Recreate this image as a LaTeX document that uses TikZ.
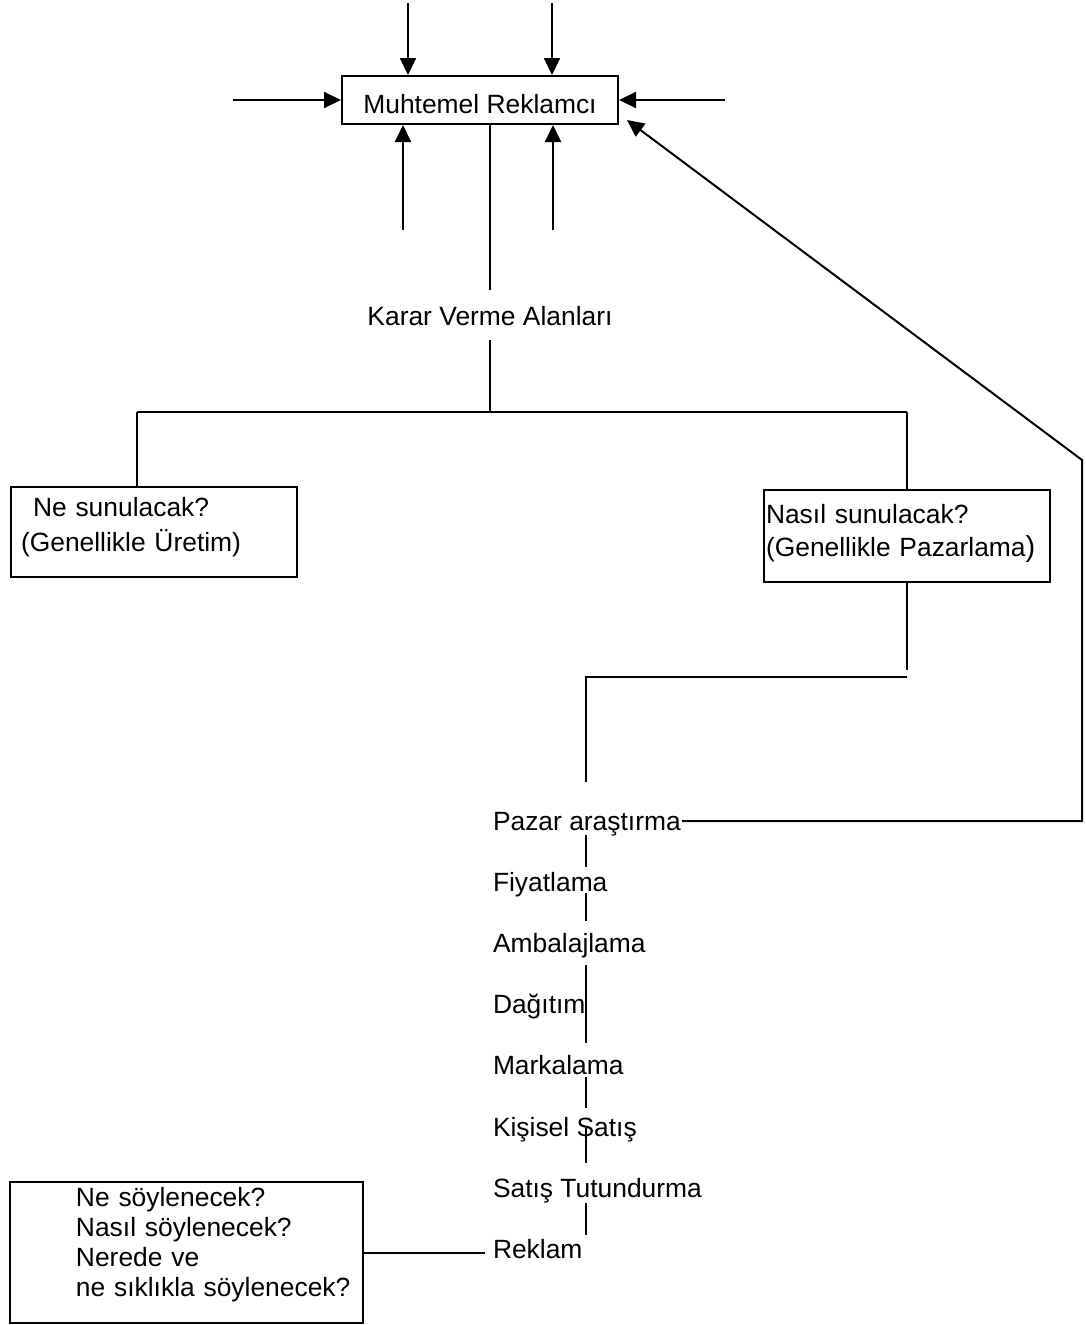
\documentclass[tikz,border=0pt]{standalone}
\usepackage{fontspec}
\setmainfont{Liberation Sans}
\usetikzlibrary{arrows.meta}
\begin{document}
\begin{tikzpicture}[x=1pt,y=-1pt,line width=2pt,
  font=\fontsize{26.4}{33}\selectfont,
  arr/.style={-{Triangle[length=17pt,width=16pt]}},
  tbox/.style={draw,inner ysep=0pt,anchor=north west,align=left},
  item/.style={anchor=base west,inner sep=0pt}]
\useasboundingbox (0,0) rectangle (1085,1325);

% main box
\node[draw,minimum width=276pt,minimum height=48pt,inner sep=0pt,
      text height=26pt,text depth=0pt] (mr) at (480,100) {Muhtemel Reklamcı};

% incoming arrows
\coordinate (t1) at (408,3);
\coordinate (t2) at (552,3);
\coordinate (l1) at (233,100);
\coordinate (r1) at (725,100);
\coordinate (b1) at (403,230);
\coordinate (b2) at (553,230);
\draw[arr] (t1) -- (t1 |- mr.north);
\draw[arr] (t2) -- (t2 |- mr.north);
\draw[arr] (l1) -- (mr.west);
\draw[arr] (r1) -- (mr.east);
\draw[arr] (b1) -- (b1 |- mr.south);
\draw[arr] (b2) -- (b2 |- mr.south);

% decision areas
\node[anchor=base,inner sep=0pt] (kv) at (490,325) {Karar Verme Alanları};
\coordinate (mrs) at (490,124);
\coordinate (kvtop) at (490,290);
\coordinate (kvbot) at (490,340);
\coordinate (split) at (490,413);
\draw (mrs) -- (kvtop);
\draw (kvbot) -- (split);

\node[tbox,text width=266pt,inner xsep=10pt,font=\fontsize{26.4}{35}\selectfont] (ne) at (10,486)
  {\hspace*{12pt}\rule{0pt}{29pt}Ne sunulacak?\\(Genellikle Üretim)\rule[-26pt]{0pt}{26pt}};
\node[tbox,text width=282pt,inner xsep=2pt,font=\fontsize{26.4}{33}\selectfont] (nasil) at (763,489)
  {\rule{0pt}{33pt}Nasıl sunulacak?\\(Genellikle Pazarlama{\fontsize{29}{33}\selectfont)}\rule[-26pt]{0pt}{26pt}};

\coordinate (hl) at (137,412);
\coordinate (hr) at (907,412);
\draw (hl) -- (hr);
\draw (hl) -- (hl |- ne.north);
\draw (hr) -- (hr |- nasil.north);

% marketing branch
\coordinate (n1) at (907,670);
\coordinate (n2) at (907,677);
\coordinate (n3) at (586,677);
\coordinate (n4) at (586,782);
\draw (nasil.south) -- (n1);
\draw (n2) -- (n3) -- (n4);

\node[item] (pa) at (492,830) {Pazar araştırma};
\node[item] (fi) at (492,891.2) {Fiyatlama};
\node[item] (am) at (492,952.4) {Ambalajlama};
\node[item] (da) at (492,1013.6) {Dağıtım};
\node[item] (ma) at (492,1074.8) {Markalama};
\node[item] (ki) at (492,1136) {Kişisel Satış};
\node[item] (sa) at (492,1197.2) {Satış Tutundurma};
\node[item] (re) at (492,1258.4) {Reklam};

\draw (586,835) -- (586,867);
\draw (586,893) -- (586,921);
\draw (586,965) -- (586,1043);
\draw (586,1077) -- (586,1108);
\draw (586,1128) -- (586,1163);
\draw (586,1203) -- (586,1235);

% feedback arrow
\coordinate (pe) at (682,821);
\coordinate (fr) at (1082,821);
\coordinate (fu) at (1082,460);
\draw[arr] (pe) -- (fr) -- (fu) -- ([shift={(8,-5)}]mr.south east);

% advertising box
\node[tbox,text width=353pt,inner xsep=0pt,font=\fontsize{26.4}{30}\selectfont] (ad) at (9,1181)
  {\leftskip=66pt\rule{0pt}{24pt}Ne söylenecek?\\Nasıl söylenecek?\\Nerede ve\\ne sıklıkla söylenecek?\rule[-27pt]{0pt}{27pt}\par};
\draw (ad.east) -- ++(121,0);
\end{tikzpicture}
\end{document}
